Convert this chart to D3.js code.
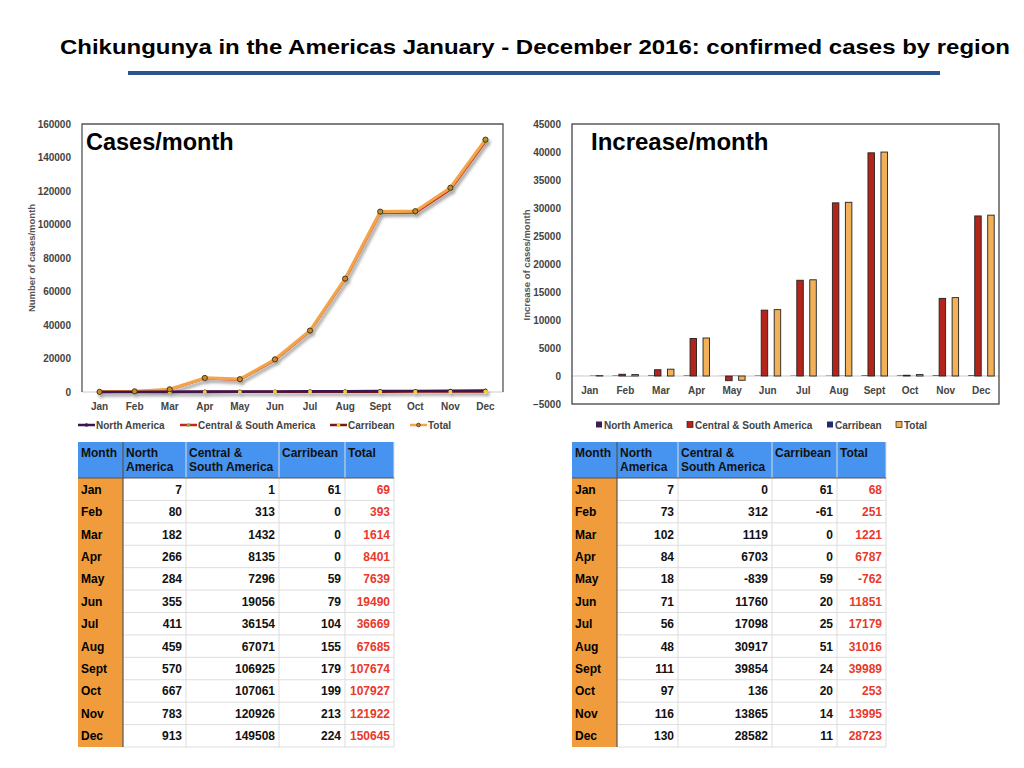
<!DOCTYPE html>
<html>
<head>
<meta charset="utf-8">
<script src="https://cdn.jsdelivr.net/npm/d3@7"></script>
<style>
  body { margin: 0; background: #fff; }
  svg { display: block; font-family: "Liberation Sans", Arial, sans-serif; }
</style>
</head>
<body>
<svg id="chart" width="1024" height="768"></svg>
<script>
// ---- data ----
const months = ["Jan", "Feb", "Mar", "Apr", "May", "Jun", "Jul", "Aug", "Sept", "Oct", "Nov", "Dec"];
const seriesNames = ["North America", "Central & South America", "Carribean", "Total"];

// cumulative confirmed cases
const casesNA = [7, 80, 182, 266, 284, 355, 411, 459, 570, 667, 783, 913];
const casesCSA = [1, 313, 1432, 8135, 7296, 19056, 36154, 67071, 106925, 107061, 120926, 149508];
const casesCar = [61, 0, 0, 0, 59, 79, 104, 155, 179, 199, 213, 224];
const casesTotal = [69, 393, 1614, 8401, 7639, 19490, 36669, 67685, 107674, 107927, 121922, 150645];

// increase per month
const incNA = [7, 73, 102, 84, 18, 71, 56, 48, 111, 97, 116, 130];
const incCSA = [0, 312, 1119, 6703, -839, 11760, 17098, 30917, 39854, 136, 13865, 28582];
const incCar = [61, -61, 0, 0, 59, 20, 25, 51, 24, 20, 14, 11];
const incTotal = [68, 251, 1221, 6787, -762, 11851, 17179, 31016, 39989, 253, 13995, 28723];

const casesTicks = d3.range(0, 160001, 20000);
const incTicks = d3.range(-5000, 45001, 5000);
const tableHeads = [["Month"], ["North", "America"], ["Central &", "South America"], ["Carribean"], ["Total"]];

const lineColors = ["#3b1450", "#c4261c", "#7c1810", "#f3a449"];
const markerColors = ["#3b1450", "#7cae3a", "#f2d03c", "#c98a2a"];
const barColors = ["#3d1f58", "#b3241a", "#1d2d6e", "#f2b158"];

const svg = d3.select("#chart");

// drop shadow for the line chart
const defs = svg.append("defs");
defs.append("filter").attr("id", "shadow")
  .attr("x", "-10%").attr("y", "-10%").attr("width", "130%").attr("height", "130%")
  .append("feDropShadow")
  .attr("dx", 2).attr("dy", 3).attr("stdDeviation", 1.5)
  .attr("flood-color", "#000").attr("flood-opacity", 0.35);

// ---- title ----
svg.append("text")
  .attr("x", 60).attr("y", 54)
  .attr("textLength", 950).attr("lengthAdjust", "spacingAndGlyphs")
  .style("font-family", "'Liberation Sans Narrow', 'Liberation Sans', Arial, sans-serif")
  .style("font-weight", "bold").style("font-size", "21px").attr("fill", "#000")
  .text("Chikungunya in the Americas January - December 2016: confirmed cases by region");

svg.append("rect").attr("x", 128).attr("y", 71).attr("width", 812).attr("height", 4).attr("fill", "#2b5590");

// ---- left: cases/month line chart ----
const L = { left: 82, right: 503, top: 124, bottom: 392 };
const xL = d3.scaleBand().domain(months).range([L.left, L.right]);
const yL = d3.scaleLinear().domain([0, 160000]).range([L.bottom, L.top]);

const gL = svg.append("g");
gL.append("line").attr("x1", L.left).attr("x2", L.right).attr("y1", L.bottom).attr("y2", L.bottom)
  .attr("stroke", "#ccc").attr("stroke-width", 1);
gL.append("path")
  .attr("d", `M${L.left},${L.bottom}V${L.top}H${L.right}V${L.bottom}`)
  .attr("fill", "none").attr("stroke", "#555").attr("stroke-width", 1.3);

const yAxisL = gL.append("g").attr("transform", `translate(${L.left - 8},0)`)
  .call(d3.axisLeft(yL).tickValues(casesTicks).tickSize(0).tickFormat(d3.format("d")));
yAxisL.select(".domain").remove();
yAxisL.selectAll("text").attr("fill", "#444").style("font-size", "10px").style("font-weight", "bold");

const xAxisL = gL.append("g").attr("transform", `translate(0,${L.bottom + 8})`)
  .call(d3.axisBottom(xL).tickSize(0));
xAxisL.select(".domain").remove();
xAxisL.selectAll("text").attr("fill", "#444").style("font-size", "10px").style("font-weight", "bold");

gL.append("text").attr("transform", `translate(35,${(L.top + L.bottom) / 2}) rotate(-90)`)
  .attr("text-anchor", "middle").attr("fill", "#555").style("font-size", "9.5px").style("font-weight", "bold")
  .text("Number of cases/month");

gL.append("text").attr("x", 86).attr("y", 150).style("font-size", "23.5px").style("font-weight", "bold")
  .text("Cases/month");

const lineSeries = [casesNA, casesCSA, casesCar, casesTotal];
const lineGen = d3.line().x((d, i) => xL(months[i]) + xL.bandwidth() / 2).y(d => yL(d));
const plotL = gL.append("g").attr("filter", "url(#shadow)");
[1, 3, 2, 0].forEach(s => {
  plotL.append("path").datum(lineSeries[s]).attr("d", lineGen)
    .attr("fill", "none").attr("stroke", lineColors[s]).attr("stroke-width", s === 3 ? 3.2 : 2.4)
    .attr("stroke-linejoin", "round");
});
[1, 0, 2, 3].forEach(s => {
  plotL.selectAll(null).data(lineSeries[s]).join("circle")
    .attr("cx", (d, i) => xL(months[i]) + xL.bandwidth() / 2).attr("cy", d => yL(d))
    .attr("r", s === 3 ? 2.6 : 2)
    .attr("fill", markerColors[s])
    .attr("stroke", s === 3 ? "#3a2a10" : "none").attr("stroke-width", 0.9);
});

// legend
const legL = gL.append("g");
const legLx = [78, 180, 330, 410];
seriesNames.forEach((n, i) => {
  const g = legL.append("g").attr("transform", `translate(${legLx[i]},425)`);
  g.append("line").attr("x1", 0).attr("x2", 17).attr("stroke", lineColors[i]).attr("stroke-width", 2.5);
  g.append("circle").attr("cx", 8.5).attr("r", 1.8).attr("fill", markerColors[i])
    .attr("stroke", i === 3 ? "#3a2a10" : "none").attr("stroke-width", 0.8);
  g.append("text").attr("x", 18).attr("y", 3.5).attr("fill", "#444")
    .style("font-size", "10px").style("font-weight", "bold").text(n);
});

// ---- right: increase/month bar chart ----
const R = { left: 572, right: 999, top: 124, bottom: 404 };
const xR = d3.scaleBand().domain(months).range([R.left, R.right]).paddingInner(0.27).paddingOuter(0.135);
const xSub = d3.scaleBand().domain(d3.range(4)).range([0, xR.bandwidth()]);
const yR = d3.scaleLinear().domain([-5000, 45000]).range([R.bottom, R.top]);

const gR = svg.append("g");
gR.append("line").attr("x1", R.left).attr("x2", R.right).attr("y1", yR(0)).attr("y2", yR(0))
  .attr("stroke", "#ccc").attr("stroke-width", 1);

const incSeries = [incNA, incCSA, incCar, incTotal];
months.forEach((m, i) => {
  incSeries.forEach((s, k) => {
    const v = s[i];
    gR.append("rect")
      .attr("x", xR(m) + xSub(k)).attr("width", xSub.bandwidth())
      .attr("y", yR(Math.max(0, v))).attr("height", Math.abs(yR(v) - yR(0)))
      .attr("fill", barColors[k])
      .attr("stroke", (k === 1 || k === 3) ? "#222" : "none").attr("stroke-width", 0.9);
  });
});

gR.append("rect").attr("x", R.left).attr("y", R.top).attr("width", R.right - R.left).attr("height", R.bottom - R.top)
  .attr("fill", "none").attr("stroke", "#444").attr("stroke-width", 1.3);

const yAxisR = gR.append("g").attr("transform", `translate(${R.left - 8},0)`)
  .call(d3.axisLeft(yR).tickValues(incTicks).tickSize(0).tickFormat(d3.format("d")));
yAxisR.select(".domain").remove();
yAxisR.selectAll("text").attr("fill", "#444").style("font-size", "10px").style("font-weight", "bold");

const xAxisR = gR.append("g").attr("transform", `translate(0,${yR(0) + 8})`)
  .call(d3.axisBottom(xR).tickSize(0));
xAxisR.select(".domain").remove();
xAxisR.selectAll("text").attr("fill", "#444").style("font-size", "10px").style("font-weight", "bold");

gR.append("text").attr("transform", `translate(530,${265}) rotate(-90)`)
  .attr("text-anchor", "middle").attr("fill", "#555").style("font-size", "9.5px").style("font-weight", "bold")
  .text("Increase of cases/month");

gR.append("text").attr("x", 591).attr("y", 150).style("font-size", "24px").style("font-weight", "bold")
  .text("Increase/month");

const legRx = [596, 687, 827, 896];
seriesNames.forEach((n, i) => {
  const g = gR.append("g").attr("transform", `translate(${legRx[i]},425)`);
  g.append("rect").attr("x", 0).attr("y", -3.5).attr("width", 6).attr("height", 6)
    .attr("fill", barColors[i]).attr("stroke", (i === 1 || i === 3) ? "#222" : "none").attr("stroke-width", 0.7);
  g.append("text").attr("x", 8).attr("y", 3.5).attr("fill", "#444")
    .style("font-size", "10px").style("font-weight", "bold").text(n);
});

// ---- tables ----
function drawTable(x0, colEdges, na, csa, car, tot) {
  const top = 442, headH = 36;
  const rowY = d3.scaleBand().domain(months).range([top + headH, 747]);
  const g = svg.append("g");
  const cols = colEdges.map(e => x0 + e);
  const right = cols[cols.length - 1];

  g.append("rect").attr("x", x0).attr("y", top).attr("width", right - x0).attr("height", headH).attr("fill", "#4793f0");
  g.append("rect").attr("x", x0).attr("y", top + headH).attr("width", cols[1] - x0).attr("height", 747 - top - headH)
    .attr("fill", "#f09c3c");

  // grid lines
  months.forEach(m => {
    g.append("line").attr("x1", cols[1]).attr("x2", right).attr("y1", rowY(m) + rowY.bandwidth()).attr("y2", rowY(m) + rowY.bandwidth())
      .attr("stroke", "#ddd").attr("stroke-width", 1);
  });
  cols.slice(2).forEach(c => {
    g.append("line").attr("x1", c).attr("x2", c).attr("y1", top).attr("y2", 747).attr("stroke", "#ddd").attr("stroke-width", 1);
  });
  g.append("line").attr("x1", x0).attr("x2", right).attr("y1", top + headH).attr("y2", top + headH).attr("stroke", "#555").attr("stroke-width", 1.2);
  g.append("line").attr("x1", cols[1]).attr("x2", cols[1]).attr("y1", top).attr("y2", 747).attr("stroke", "#555").attr("stroke-width", 1.2);

  tableHeads.forEach((lines, c) => {
    lines.forEach((t, j) => {
      g.append("text").attr("x", cols[c] + 3).attr("y", top + 15 + j * 13.5)
        .style("font-size", "12px").style("font-weight", "bold").attr("fill", "#111").text(t);
    });
  });

  months.forEach((m, i) => {
    const y = rowY(m) + rowY.bandwidth() / 2 + 4.5;
    g.append("text").attr("x", x0 + 3).attr("y", y).style("font-size", "12px").style("font-weight", "bold").text(m);
    [na[i], csa[i], car[i], tot[i]].forEach((v, k) => {
      g.append("text").attr("x", cols[k + 2] - 4).attr("y", y).attr("text-anchor", "end")
        .style("font-size", "12px").style("font-weight", "bold")
        .attr("fill", k === 3 ? "#e8392a" : "#111").text(v);
    });
  });
}

drawTable(78, [0, 45, 108, 201, 267, 316], casesNA, casesCSA, casesCar, casesTotal);
drawTable(572, [0, 45, 106, 200, 265, 314], incNA, incCSA, incCar, incTotal);
</script>
</body>
</html>
